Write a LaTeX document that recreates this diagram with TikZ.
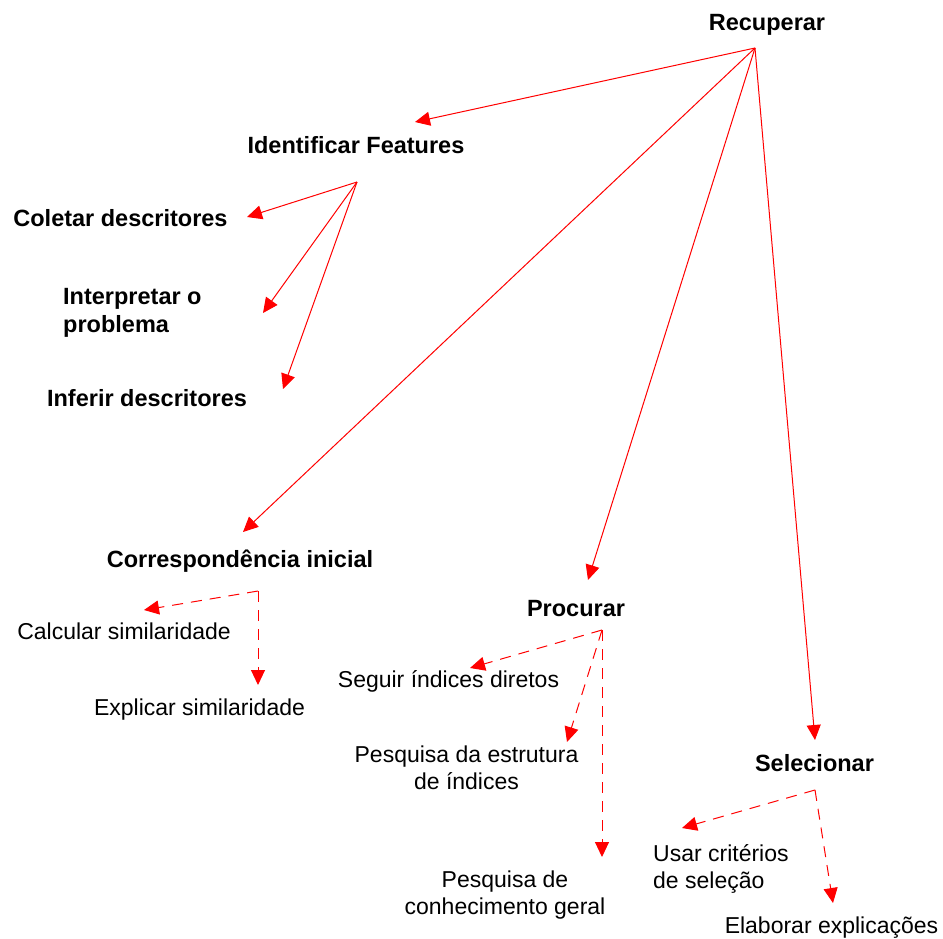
\documentclass[tikz,border=0pt]{standalone}
\usepackage{fontspec}
\setmainfont{Liberation Sans}
\usetikzlibrary{arrows.meta}
\begin{document}
\begin{tikzpicture}[x=1pt,y=-1pt,
  lbl/.style={inner sep=0pt, font=\fontsize{23}{27}\selectfont},
  blbl/.style={inner sep=0pt, font=\fontsize{23.5}{28}\selectfont\bfseries},
  link/.style={draw=red, line width=1pt, -{Triangle[length=15pt,width=14pt]}},
  dlink/.style={link, dash pattern=on 11pt off 8pt}]
\useasboundingbox[fill=white] (0,0) rectangle (943,938);

% labels
\node[blbl, anchor=base] (rec) at (767,30) {Recuperar};
\node[blbl, anchor=base] (idf) at (356,153) {Identificar Features};
\node[blbl, anchor=base] (col) at (120.5,226) {Coletar descritores};
\node[blbl, anchor=north west, align=left] (int) at (63,288.5) {Interpretar o\\problema};
\node[blbl, anchor=base] (inf) at (147,406) {Inferir descritores};
\node[blbl, anchor=base] (cor) at (240,567) {Correspond\^encia inicial};
\node[lbl, anchor=base] (cal) at (124,639) {Calcular similaridade};
\node[lbl, anchor=base] (exp) at (199.5,715) {Explicar similaridade};
\node[blbl, anchor=base] (pro) at (576,616) {Procurar};
\node[lbl, anchor=base] (seg) at (448.5,687) {Seguir índices diretos};
\node[lbl, anchor=north, align=center] (pes) at (466.5,745.5) {Pesquisa da estrutura\\de índices};
\node[lbl, anchor=north, align=center] (con) at (505,870.5) {Pesquisa de\\conhecimento geral};
\node[blbl, anchor=base] (sel) at (814.5,771) {Selecionar};
\node[lbl, anchor=north west, align=left] (usa) at (653,844.5) {Usar critérios\\de seleção};
\node[lbl, anchor=base] (ela) at (831.5,933) {Elaborar explicações};

% hubs and tips
\coordinate (rec-o) at (755,48);
\coordinate (idf-i) at (415,122);
\coordinate (cor-i) at (243,532);
\coordinate (pro-i) at (588,580);
\coordinate (sel-i) at (815,740);
\coordinate (idf-o) at (357,182);
\coordinate (col-i) at (247,217);
\coordinate (int-i) at (263,313);
\coordinate (inf-i) at (283,389);
\coordinate (cor-o) at (258,591);
\coordinate (cal-i) at (144,610);
\coordinate (exp-i) at (258,685);
\coordinate (pro-o) at (602,630);
\coordinate (seg-i) at (470,668);
\coordinate (pes-i) at (567,742);
\coordinate (con-i) at (602,857);
\coordinate (sel-o) at (815,790);
\coordinate (usa-i) at (682,828);
\coordinate (ela-i) at (833,903);

% solid connectors
\draw[link] (rec-o) -- (idf-i);
\draw[link] (rec-o) -- (cor-i);
\draw[link] (rec-o) -- (pro-i);
\draw[link] (rec-o) -- (sel-i);
\draw[link] (idf-o) -- (col-i);
\draw[link] (idf-o) -- (int-i);
\draw[link] (idf-o) -- (inf-i);

% dashed connectors
\draw[dlink] (cor-o) -- (cal-i);
\draw[dlink] (cor-o) -- (exp-i);
\draw[dlink] (pro-o) -- (seg-i);
\draw[dlink] (pro-o) -- (pes-i);
\draw[dlink] (pro-o) -- (con-i);
\draw[dlink] (sel-o) -- (usa-i);
\draw[dlink] (sel-o) -- (ela-i);
\end{tikzpicture}
\end{document}
